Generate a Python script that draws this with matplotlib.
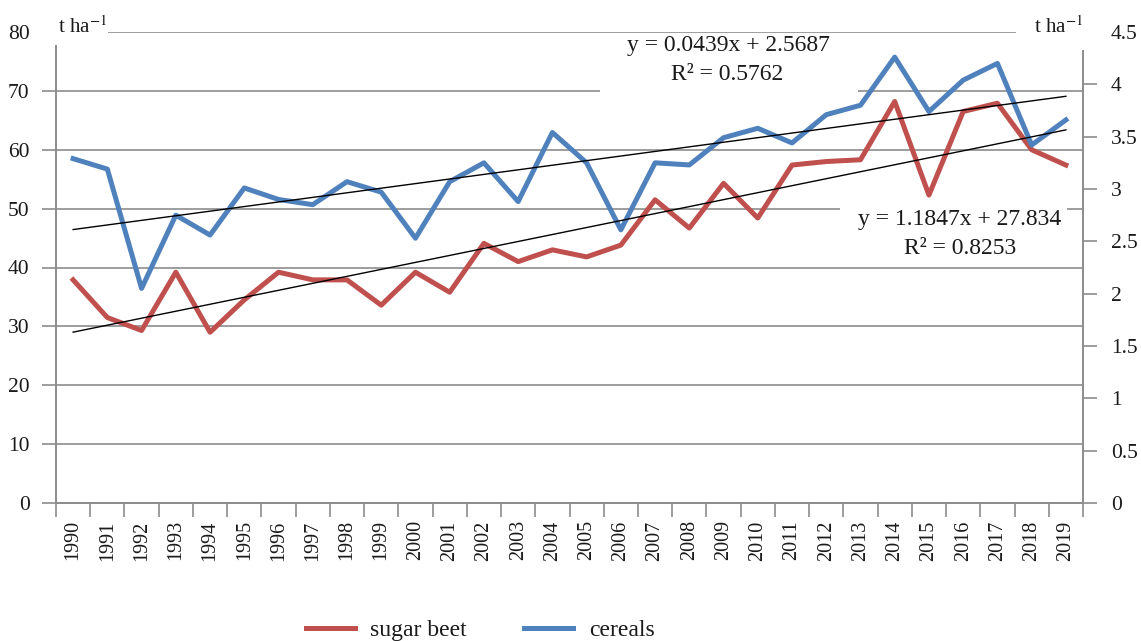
import numpy as np
import matplotlib
matplotlib.use("Agg")
import matplotlib.pyplot as plt
from matplotlib.patches import Rectangle
from matplotlib.lines import Line2D

plt.rcParams["font.family"] = ["Liberation Serif", "DejaVu Serif"]
plt.rcParams["mathtext.fontset"] = "stix"

# 数据
years = [str(y) for y in range(1990, 2020)]
sugar_beet = [37.9, 31.5, 29.3, 39.2, 29.0, 34.5, 39.2, 37.9, 37.9, 33.6,
              39.2, 35.8, 44.1, 41.0, 43.0, 41.8, 43.8, 51.5, 46.7, 54.3,
              48.4, 57.4, 58.0, 58.3, 68.2, 52.3, 66.5, 67.9, 60.0, 57.4]
cereals = [3.29, 3.19, 2.05, 2.75, 2.56, 3.01, 2.90, 2.85, 3.07, 2.97,
           2.53, 3.07, 3.25, 2.88, 3.54, 3.25, 2.61, 3.25, 3.23, 3.49,
           3.58, 3.44, 3.71, 3.80, 4.26, 3.74, 4.04, 4.20, 3.42, 3.66]
# 趋势线系数（图中给出）
sb_slope, sb_icpt, sb_r2 = 1.1847, 27.834, 0.8253
ce_slope, ce_icpt, ce_r2 = 0.0439, 2.5687, 0.5762

RED = "#C0504D"
BLUE = "#4F81BD"
GREY = "#8c8c8c"
TXT = "#1a1a1a"

W, H = 1141, 641
fig = plt.figure(figsize=(W / 100, H / 100), dpi=100)
ax = fig.add_axes([56 / W, 1 - 503 / H, (1083 - 56) / W, (503 - 32) / H])
ax2 = ax.twinx()

x = np.arange(len(years))
n = np.arange(1, len(years) + 1)

ax.plot(x, sugar_beet, color=RED, lw=3.6, zorder=3)
ax2.plot(x, cereals, color=BLUE, lw=3.6, zorder=3)
# 趋势线，画在最上层
ax2.plot(x, sb_slope * n + sb_icpt, color="black", lw=1.0, transform=ax.transData, zorder=4)
ax2.plot(x, ce_slope * n + ce_icpt, color="black", lw=1.0, zorder=4)

ax.set_xlim(-0.5, len(years) - 0.5)
ax.set_ylim(0, 80)
ax2.set_ylim(0, 4.5)
ax.set_yticks(np.arange(0, 81, 10))
ax2.set_yticks(np.arange(0, 4.51, 0.5))
ax2.set_yticklabels(["0", "0.5", "1", "1.5", "2", "2.5", "3", "3.5", "4", "4.5"])

ax.set_xticks(np.arange(-0.5, len(years), 1.0))
ax.set_xticklabels([])
ax.set_xticks(x, minor=True)
ax.set_xticklabels(years, minor=True, rotation=90, va="top")
ax.tick_params(axis="x", which="major", length=10, width=1.2, color=GREY, direction="out")
ax.tick_params(axis="x", which="minor", length=0, pad=12.5, labelsize=14.5, labelcolor=TXT)
ax.tick_params(axis="y", length=10, width=1.2, color=GREY, pad=9, labelsize=15.5, labelcolor=TXT)
ax2.tick_params(axis="y", length=10, width=1.2, color=GREY, pad=10, labelsize=15.5, labelcolor=TXT)

ax.yaxis.grid(True, color=GREY, lw=1.2)
ax.set_axisbelow(True)
for a in (ax, ax2):
    a.spines["top"].set_visible(False)
    for s in ("left", "right", "bottom"):
        a.spines[s].set_color(GREY)
        a.spines[s].set_linewidth(1.2)

# 白色遮挡框（原图中的标签背景）
for (x0, y0, x1, y1) in [(600, 36, 858, 96), (840, 203, 1067, 262),
                         (38, 6, 108, 45), (1016, 6, 1100, 50)]:
    fig.patches.append(Rectangle((x0 / W, 1 - y1 / H), (x1 - x0) / W, (y1 - y0) / H,
                                 transform=fig.transFigure, facecolor="white",
                                 edgecolor="none", zorder=1))

fig.text(58 / W, 1 - 27 / H, r"t ha$^{-1}$", fontsize=15, color=TXT, va="center", ha="left")
fig.text(1034 / W, 1 - 27 / H, r"t ha$^{-1}$", fontsize=15, color=TXT, va="center", ha="left")

fig.text(728 / W, 1 - 45 / H, f"y = {ce_slope:.4f}x + {ce_icpt:.4f}",
         fontsize=17, color=TXT, ha="center", va="center")
fig.text(727 / W, 1 - 75 / H, f"R² = {ce_r2:.4f}", fontsize=17, color=TXT, ha="center", va="center")
fig.text(960 / W, 1 - 220 / H, f"y = {sb_slope:.4f}x + {sb_icpt:.3f}",
         fontsize=17, color=TXT, ha="center", va="center")
fig.text(960 / W, 1 - 248 / H, f"R² = {sb_r2:.4f}", fontsize=17, color=TXT, ha="center", va="center")

handles = [Line2D([], [], color=RED, lw=3.6), Line2D([], [], color=BLUE, lw=3.6)]
fig.legend(handles, ["sugar beet", "cereals"], loc="center", ncol=2, frameon=False,
           bbox_to_anchor=(480 / W, 1 - 630 / H), fontsize=17, handlelength=2.1,
           handletextpad=0.65, columnspacing=2.4, labelcolor=TXT)

fig.savefig("out.png", dpi=100)
